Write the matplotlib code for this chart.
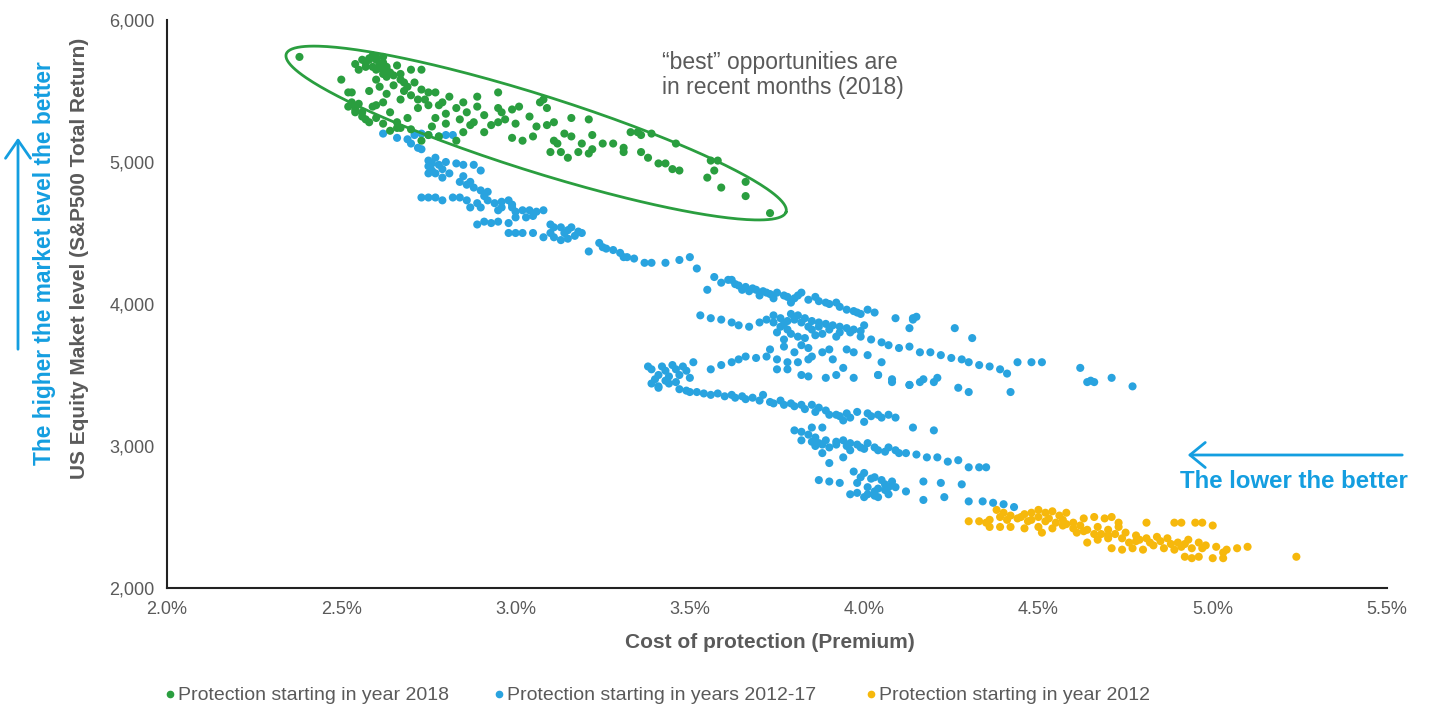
import numpy as np
import matplotlib
matplotlib.use("Agg")
import matplotlib.pyplot as plt
from matplotlib.lines import Line2D
from matplotlib.patches import FancyArrowPatch

plt.rcParams['font.family'] = ['Liberation Sans', 'DejaVu Sans']

# premium (%) vs S&P500 TR level
green_pts = [
    (2.38, 5740), (2.50, 5580), (2.52, 5490), (2.53, 5420), (2.52, 5390), (2.54, 5350),
    (2.56, 5320), (2.58, 5280), (2.54, 5690), (2.58, 5730), (2.60, 5720), (2.62, 5700),
    (2.59, 5670), (2.61, 5660), (2.63, 5650), (2.66, 5680), (2.70, 5650), (2.73, 5650),
    (2.57, 5700), (2.60, 5740), (2.55, 5650), (2.64, 5630), (2.58, 5720), (2.62, 5740),
    (2.59, 5750), (2.60, 5580), (2.63, 5600), (2.65, 5610), (2.67, 5580), (2.65, 5540),
    (2.69, 5530), (2.71, 5560), (2.73, 5510), (2.75, 5490), (2.77, 5490), (2.53, 5490),
    (2.70, 5470), (2.67, 5440), (2.72, 5440), (2.81, 5460), (2.79, 5420), (2.85, 5420),
    (2.89, 5460), (2.95, 5490), (3.07, 5420), (2.53, 5410), (2.55, 5410), (2.54, 5370),
    (2.56, 5350), (2.59, 5390), (2.62, 5420), (2.64, 5350), (2.57, 5300), (2.60, 5310),
    (2.66, 5280), (2.69, 5310), (2.72, 5380), (2.75, 5400), (2.77, 5310), (2.76, 5250),
    (2.83, 5380), (2.86, 5350), (2.89, 5390), (2.91, 5330), (2.95, 5380), (2.96, 5350),
    (2.99, 5370), (3.01, 5390), (2.88, 5280), (2.91, 5210), (2.95, 5280), (2.97, 5300),
    (3.00, 5270), (3.04, 5320), (3.06, 5250), (2.99, 5170), (3.02, 5150), (3.05, 5180),
    (2.67, 5240), (2.70, 5230), (2.75, 5190), (2.78, 5180), (2.83, 5150), (2.73, 5150),
    (2.66, 5240), (3.08, 5440), (3.09, 5380), (3.09, 5260), (3.11, 5280), (3.16, 5310),
    (3.21, 5300), (3.14, 5200), (3.16, 5180), (3.11, 5150), (3.12, 5130), (3.19, 5130),
    (3.22, 5190), (3.10, 5070), (3.13, 5070), (3.15, 5030), (3.18, 5070), (3.21, 5060),
    (3.22, 5090), (3.25, 5130), (3.28, 5130), (3.31, 5100), (3.31, 5070), (3.33, 5210),
    (3.35, 5210), (3.36, 5190), (3.39, 5200), (3.36, 5070), (3.38, 5030), (3.41, 4990),
    (3.43, 4990), (3.45, 4950), (3.47, 4940), (3.46, 5130), (3.56, 5010), (3.58, 5010),
    (3.57, 4940), (3.55, 4890), (3.59, 4820), (3.66, 4860), (3.66, 4760), (3.73, 4640),
    (2.56, 5720), (2.61, 5690), (2.63, 5670), (2.57, 5670), (2.60, 5650), (2.62, 5620),
    (2.67, 5620), (2.68, 5560), (2.61, 5530), (2.58, 5500), (2.63, 5480), (2.68, 5500),
    (2.74, 5440), (2.78, 5400), (2.80, 5340), (2.84, 5300), (2.87, 5260), (2.93, 5260),
    (2.80, 5270), (2.85, 5210), (2.62, 5270), (2.64, 5220), (2.60, 5400),
]

blue_pts = [
    # upper chain
    (2.62, 5200), (2.66, 5170), (2.69, 5160), (2.71, 5190), (2.73, 5200), (2.75, 5190),
    (2.78, 5180), (2.80, 5190), (2.82, 5190), (2.72, 5100), (2.73, 5090), (2.70, 5130),
    (2.75, 5010), (2.75, 4970), (2.76, 4940), (2.77, 4920), (2.79, 4890), (2.75, 4920),
    (2.76, 4990), (2.78, 4980), (2.80, 5000), (2.83, 4990), (2.85, 4980), (2.88, 4980),
    (2.90, 4940), (2.84, 4860), (2.86, 4840), (2.88, 4820), (2.90, 4800), (2.92, 4790),
    (2.73, 4750), (2.75, 4750), (2.77, 4750), (2.79, 4730), (2.82, 4750), (2.84, 4750),
    (2.86, 4730), (2.87, 4680), (2.89, 4710), (2.90, 4680), (2.92, 4730), (2.94, 4710),
    (2.95, 4660), (2.96, 4680), (2.98, 4730), (2.99, 4680), (3.00, 4650), (3.02, 4660),
    (3.04, 4660), (3.06, 4650), (3.08, 4660), (3.00, 4610), (3.03, 4610), (2.89, 4560),
    (2.91, 4580), (2.93, 4570), (2.95, 4580), (2.98, 4570), (2.98, 4500), (3.00, 4500),
    (3.02, 4500), (3.05, 4500), (3.08, 4470), (3.10, 4500), (3.11, 4540), (3.13, 4540),
    (3.15, 4520), (3.16, 4540), (3.18, 4510), (3.19, 4500), (3.11, 4470), (3.13, 4450),
    (3.21, 4370), (3.24, 4430), (3.26, 4390), (3.28, 4380), (3.30, 4360), (3.32, 4330),
    (3.25, 4400), (3.31, 4330), (3.34, 4320), (3.37, 4290), (3.39, 4290), (3.43, 4290),
    (3.47, 4310), (3.50, 4330), (3.52, 4250),
    (2.77, 5030), (2.79, 4950), (2.81, 4920), (2.85, 4900), (2.87, 4860), (2.91, 4760),
    (2.96, 4720), (2.99, 4700), (3.05, 4620), (3.10, 4560), (3.14, 4500), (3.17, 4480),
    (3.15, 4460),
    # band around 4,000
    (3.57, 4190), (3.61, 4170), (3.64, 4130), (3.66, 4120), (3.69, 4100), (3.72, 4080),
    (3.75, 4080), (3.78, 4050), (3.81, 4060), (3.82, 4080), (3.86, 4050), (3.89, 4010),
    (3.92, 4010), (3.95, 3960), (3.98, 3940), (4.01, 3960), (4.03, 3940), (3.55, 4100),
    (3.62, 4170), (3.67, 4090), (3.70, 4060), (3.74, 4040), (3.79, 4010), (4.09, 3900),
    (4.14, 3900), (4.15, 3910),
    (3.59, 4150), (3.63, 4140), (3.65, 4100), (3.68, 4110), (3.71, 4090), (3.73, 4070),
    (3.77, 4060), (3.80, 4040), (3.84, 4030), (3.87, 4020), (3.90, 4000), (3.93, 3980),
    (3.97, 3950), (3.99, 3930),
    # band around 3,800
    (3.53, 3920), (3.56, 3900), (3.59, 3890), (3.62, 3870), (3.64, 3850), (3.67, 3840),
    (3.70, 3870), (3.72, 3890), (3.74, 3870), (3.76, 3840), (3.78, 3820), (3.75, 3800),
    (3.77, 3750), (3.80, 3890), (3.82, 3870), (3.84, 3840), (3.85, 3820), (3.87, 3840),
    (3.90, 3820), (3.93, 3800), (3.96, 3800), (3.99, 3770), (4.02, 3750), (4.05, 3730),
    (4.07, 3710), (4.10, 3690), (4.13, 3700), (4.16, 3660), (4.19, 3660), (4.22, 3640),
    (4.25, 3620), (4.28, 3610), (4.30, 3590), (4.33, 3570), (4.36, 3560), (4.39, 3540),
    (4.41, 3510), (4.44, 3590), (4.48, 3590), (4.51, 3590), (4.62, 3550), (4.64, 3450),
    (4.66, 3450), (4.26, 3830), (4.31, 3760), (4.14, 3890), (4.13, 3830), (4.42, 3380),
    (4.30, 3380), (4.27, 3410), (4.20, 3450), (4.16, 3450), (4.13, 3430), (4.08, 3450),
    (4.05, 3590), (4.04, 3500), (4.01, 3640), (3.97, 3660), (3.95, 3680), (3.90, 3680),
    (3.84, 3690), (3.82, 3710), (4.65, 3460), (4.71, 3480), (4.77, 3420),
    (3.74, 3920), (3.76, 3900), (3.78, 3880), (3.79, 3930), (3.81, 3920), (3.83, 3900),
    (3.85, 3880), (3.87, 3870), (3.89, 3860), (3.91, 3850), (3.93, 3840), (3.95, 3830),
    (3.97, 3820), (3.99, 3810), (3.77, 3860), (3.79, 3790), (3.81, 3770), (3.83, 3760),
    (3.86, 3780), (3.88, 3790), (3.92, 3770), (4.00, 3850), (3.77, 3700), (3.80, 3660),
    (3.73, 3680),
    # band around 3,550
    (3.39, 3540), (3.42, 3560), (3.45, 3570), (3.48, 3560), (3.51, 3590), (3.41, 3500),
    (3.44, 3490), (3.47, 3500), (3.50, 3480), (3.46, 3450), (3.39, 3440), (3.41, 3410),
    (3.56, 3540), (3.59, 3570), (3.62, 3590), (3.64, 3610), (3.66, 3630), (3.69, 3620),
    (3.72, 3630), (3.75, 3610), (3.78, 3590), (3.81, 3590), (3.84, 3610), (3.85, 3630),
    (3.88, 3660), (3.91, 3610), (3.75, 3540), (3.78, 3540), (3.82, 3500), (3.84, 3490),
    (3.89, 3480), (3.92, 3500), (3.94, 3550), (3.97, 3480), (4.04, 3500), (4.08, 3470),
    (4.13, 3430), (4.17, 3470), (4.21, 3480),
    (3.43, 3530), (3.46, 3540), (3.49, 3530), (3.40, 3470), (3.43, 3460), (3.38, 3560),
    # band around 3,300
    (3.41, 3420), (3.44, 3440), (3.47, 3400), (3.50, 3380), (3.54, 3370), (3.58, 3370),
    (3.62, 3360), (3.65, 3350), (3.68, 3340), (3.71, 3360), (3.73, 3310), (3.76, 3320),
    (3.79, 3300), (3.82, 3290), (3.85, 3290), (3.87, 3270), (3.89, 3250), (3.92, 3220),
    (3.95, 3230), (3.98, 3240), (4.01, 3230), (4.04, 3220), (4.07, 3220), (4.09, 3200),
    (3.94, 3180), (4.00, 3170), (4.14, 3130), (4.20, 3110),
    (3.49, 3390), (3.52, 3380), (3.56, 3360), (3.60, 3350), (3.63, 3340), (3.66, 3330),
    (3.70, 3320), (3.74, 3300), (3.77, 3290), (3.80, 3280), (3.83, 3260), (3.86, 3240),
    (3.90, 3220), (3.93, 3210), (3.96, 3200), (4.02, 3210), (4.05, 3200),
    # band around 3,000
    (3.80, 3110), (3.82, 3100), (3.85, 3130), (3.88, 3130), (3.82, 3040), (3.85, 3030),
    (3.87, 3020), (3.90, 2990), (3.92, 3030), (3.94, 3040), (3.96, 3020), (3.99, 2990),
    (4.01, 3020), (4.04, 2970), (4.07, 2990), (4.09, 2970), (4.12, 2950), (4.15, 2940),
    (4.18, 2920), (4.21, 2920), (4.24, 2890), (4.27, 2900), (4.30, 2850), (4.33, 2850),
    (4.35, 2850), (3.90, 2880), (3.94, 2920), (3.88, 2950), (3.96, 2970),
    (3.84, 3080), (3.86, 3060), (3.89, 3040), (3.92, 3010), (3.95, 3000), (3.98, 3010),
    (4.00, 2980), (4.03, 2990), (4.06, 2960), (4.10, 2950), (3.86, 3000), (3.88, 3010),
    # band around 2,700
    (3.87, 2760), (3.90, 2750), (3.93, 2740), (3.97, 2820), (4.00, 2810), (4.03, 2780),
    (4.05, 2760), (4.08, 2750), (3.98, 2740), (4.01, 2710), (4.04, 2700), (4.07, 2710),
    (4.09, 2710), (3.98, 2670), (4.01, 2660), (4.04, 2640), (4.07, 2660), (3.96, 2660),
    (4.12, 2680), (4.17, 2750), (4.22, 2740), (4.28, 2730), (4.17, 2620), (4.23, 2640),
    (4.30, 2610), (4.34, 2610), (4.37, 2600), (4.40, 2590), (4.43, 2570),
    (3.99, 2780), (4.02, 2770), (4.06, 2730), (4.03, 2680), (4.06, 2690), (4.00, 2640),
    (4.03, 2650),
]

yellow_pts = [
    (4.30, 2470), (4.33, 2470), (4.36, 2480), (4.39, 2500), (4.41, 2480), (4.44, 2490),
    (4.47, 2470), (4.48, 2530), (4.50, 2550), (4.52, 2530), (4.54, 2540), (4.56, 2510),
    (4.58, 2530), (4.38, 2550), (4.40, 2530), (4.36, 2430), (4.39, 2430), (4.42, 2430),
    (4.46, 2420), (4.50, 2430), (4.51, 2390), (4.54, 2420), (4.57, 2440), (4.60, 2460),
    (4.63, 2490), (4.66, 2500), (4.69, 2490), (4.71, 2500), (4.73, 2460), (4.61, 2390),
    (4.64, 2410), (4.67, 2430), (4.70, 2410), (4.73, 2430), (4.64, 2320), (4.67, 2340),
    (4.70, 2350), (4.71, 2280), (4.74, 2270), (4.77, 2280), (4.80, 2270), (4.75, 2390),
    (4.78, 2370), (4.81, 2350), (4.84, 2360), (4.87, 2350), (4.90, 2320), (4.93, 2340),
    (4.96, 2320), (4.98, 2300), (5.01, 2290), (5.04, 2270), (5.07, 2280), (5.10, 2290),
    (4.81, 2460), (4.89, 2460), (4.91, 2460), (4.95, 2460), (4.97, 2460), (5.00, 2440),
    (4.89, 2270), (4.92, 2220), (4.94, 2210), (4.96, 2220), (5.00, 2210), (5.03, 2210),
    (4.86, 2280), (5.24, 2220), (4.76, 2320), (4.83, 2300), (4.92, 2310), (4.94, 2280),
    (4.45, 2500), (4.48, 2480), (4.52, 2470), (4.55, 2460), (4.58, 2450), (4.62, 2440),
    (4.68, 2380), (4.72, 2380), (4.78, 2330), (4.85, 2330),
    (4.35, 2460), (4.42, 2510), (4.46, 2520), (4.50, 2500), (4.53, 2490), (4.57, 2480),
    (4.60, 2420), (4.63, 2400), (4.66, 2380), (4.70, 2370), (4.74, 2350), (4.79, 2340),
    (4.82, 2320), (4.88, 2310), (4.91, 2290), (4.97, 2280), (5.03, 2250),
]

series_labels = ['Protection starting in year 2018',
                 'Protection starting in years 2012-17',
                 'Protection starting in year 2012']

GREEN = '#2a9e3f'
BLUE = '#29a3df'
YELLOW = '#f6b80c'
TXT = '#5a5a5a'
ARROW_BLUE = '#149ee0'

fig = plt.figure(figsize=(14.3, 7.08), dpi=100)
ax = fig.add_axes([167/1430, 1-588/708, 1220/1430, 568/708])

for pts, col in [(yellow_pts, YELLOW), (blue_pts, BLUE), (green_pts, GREEN)]:
    x, y = zip(*pts)
    ax.scatter(x, y, s=34, color=col, edgecolors='none')

ax.set_xlim(2.0, 5.5)
ax.set_ylim(2000, 6000)
ax.set_xticks(np.arange(2.0, 5.51, 0.5))
ax.set_xticklabels([f'{v:.1f}%' for v in np.arange(2.0, 5.51, 0.5)])
ax.set_yticks([2000, 3000, 4000, 5000, 6000])
ax.set_yticklabels(['2,000', '3,000', '4,000', '5,000', '6,000'])
ax.tick_params(length=0, labelsize=13, labelcolor=TXT, pad=9)
for s in ['top', 'right']:
    ax.spines[s].set_visible(False)
for s in ['left', 'bottom']:
    ax.spines[s].set_color('#222222')
    ax.spines[s].set_linewidth(1.5)

# ellipse round the 2018 points
t = np.linspace(0, 2*np.pi, 300)
cx, cy = 3.059, 5204
ax_, ay_ = 0.717, -556
bx_, by_ = -0.033, -256
ax.plot(cx + ax_*np.cos(t) + bx_*np.sin(t), cy + ay_*np.cos(t) + by_*np.sin(t),
        color=GREEN, lw=2, clip_on=False)

ax.text(3.42, 5610, '\u201cbest\u201d opportunities are\nin recent months (2018)',
        fontsize=16.5, color=TXT, va='center', ha='left', linespacing=1.1)

fig.text(770/1430, 1-643/708, 'Cost of protection (Premium)', fontsize=15,
         fontweight='bold', color=TXT, ha='center', va='center')
fig.text(80/1430, 1-258/708, 'US Equity Maket level (S&P500 Total Return)', fontsize=15,
         fontweight='bold', color=TXT, ha='center', va='center', rotation=90)
fig.text(45/1430, 1-263/708, 'The higher the market level the better', fontsize=16.4,
         fontweight='bold', color=ARROW_BLUE, ha='center', va='center', rotation=90)
fig.text(1294/1430, 1-482/708, 'The lower the better', fontsize=17.3,
         fontweight='bold', color=ARROW_BLUE, ha='center', va='center')

fig.add_artist(FancyArrowPatch(
    (18/1430, 1-352/708), (18/1430, 1-135/708), transform=fig.transFigure,
    arrowstyle='->,head_length=0.65,head_width=0.45', mutation_scale=20,
    color=ARROW_BLUE, lw=2))
fig.add_artist(FancyArrowPatch(
    (1405/1430, 1-455/708), (1185/1430, 1-455/708), transform=fig.transFigure,
    arrowstyle='->,head_length=0.55,head_width=0.45', mutation_scale=20,
    color=ARROW_BLUE, lw=2))

# legend row
for lx, col, lab in [(170, GREEN, series_labels[0]), (499, BLUE, series_labels[1]),
                     (871, YELLOW, series_labels[2])]:
    fig.add_artist(Line2D([lx/1430], [1-694/708], marker='o', markersize=4.5,
                          color=col, transform=fig.transFigure))
    fig.text((lx+8)/1430, 1-695/708, lab, fontsize=14, color=TXT,
             ha='left', va='center')

fig.savefig('out.png', dpi=100)
